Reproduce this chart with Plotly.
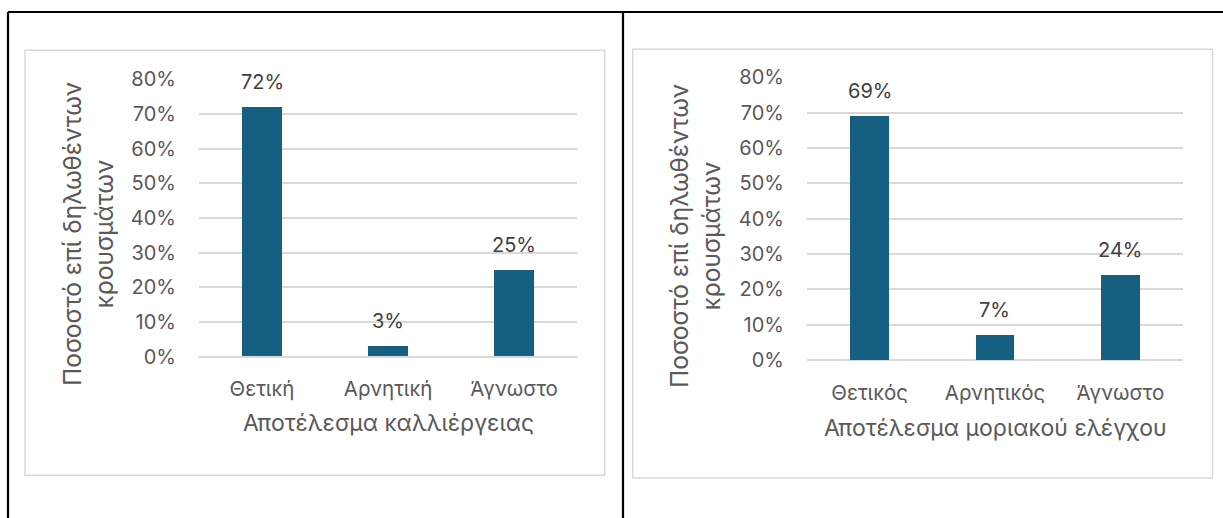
import plotly.graph_objects as go

# Data
culture_categories = ["Θετική", "Αρνητική", "Άγνωστο"]
culture_values = [0.72, 0.03, 0.25]
molecular_categories = ["Θετικός", "Αρνητικός", "Άγνωστο"]
molecular_values = [0.69, 0.07, 0.24]
y_tick_values = [0, 0.1, 0.2, 0.3, 0.4, 0.5, 0.6, 0.7, 0.8]

y_title = "Ποσοστό επί δηλωθέντων<br>κρουσμάτων"
culture_title = "Αποτέλεσμα καλλιέργειας"
molecular_title = "Αποτέλεσμα μοριακού ελέγχου"

W, H = 1223, 518
BAR_COLOR = "#156082"
GRID = "#d9d9d9"
TICK_COLOR = "#595959"
LABEL_COLOR = "#404040"
FONT = "Inter, Roboto, 'Open Sans', sans-serif"


def px(x):
    return x / W


def py(y):
    return 1 - y / H


fig = go.Figure()

fig.add_trace(go.Bar(x=culture_categories, y=culture_values, marker_color=BAR_COLOR,
                     width=0.31, xaxis="x", yaxis="y", showlegend=False, hoverinfo="skip"))
fig.add_trace(go.Bar(x=molecular_categories, y=molecular_values, marker_color=BAR_COLOR,
                     width=0.31, xaxis="x2", yaxis="y2", showlegend=False, hoverinfo="skip"))

axis_common_y = dict(
    range=[0, 0.8], tickvals=y_tick_values, tickformat=".0%",
    showgrid=True, gridcolor=GRID, gridwidth=1.5,
    zeroline=True, zerolinecolor=GRID, zerolinewidth=1.5,
    showline=False, ticks="", ticklabelstandoff=22, automargin=False,
    tickfont=dict(family=FONT, size=20, color=TICK_COLOR),
    fixedrange=True,
)
axis_common_x = dict(
    showgrid=False, zeroline=False, showline=False, ticks="",
    ticklabelstandoff=18, automargin=False,
    tickfont=dict(family=FONT, size=20.5, color=TICK_COLOR),
    fixedrange=True,
)

fig.update_layout(
    template="none",
    width=W, height=H,
    autosize=False,
    margin=dict(l=0, r=0, t=0, b=0, pad=0),
    paper_bgcolor="white", plot_bgcolor="white",
    bargap=0,
    xaxis=dict(domain=[px(199), px(577)], anchor="y", **axis_common_x),
    yaxis=dict(domain=[py(356.7), py(79.3)], anchor="x", **axis_common_y),
    xaxis2=dict(domain=[px(807), px(1183)], anchor="y2", **axis_common_x),
    yaxis2=dict(domain=[py(360), py(77.3)], anchor="x2", **axis_common_y),
)

shapes = []
# Table borders
for x0, y0, x1, y1 in [(8, 12, 1223, 12), (8, 12, 8, 518), (623, 12, 623, 518)]:
    shapes.append(dict(type="line", xref="paper", yref="paper",
                       x0=px(x0), y0=py(y0), x1=px(x1), y1=py(y1),
                       line=dict(color="black", width=2.2)))
# Chart area frames
for x0, y0, x1, y1 in [(25, 50.3, 604.7, 475.3), (632.7, 49.3, 1212.5, 478)]:
    shapes.append(dict(type="rect", xref="paper", yref="paper",
                       x0=px(x0), y0=py(y0), x1=px(x1), y1=py(y1),
                       line=dict(color=GRID, width=1.5), fillcolor="rgba(0,0,0,0)"))
fig.update_layout(shapes=shapes)

annotations = []
# Data labels
for cats, vals, xr, yr in [(culture_categories, culture_values, "x", "y"),
                           (molecular_categories, molecular_values, "x2", "y2")]:
    for c, v in zip(cats, vals):
        annotations.append(dict(x=c, y=v, xref=xr, yref=yr, text=f"{round(v * 100)}%",
                                showarrow=False, yanchor="middle", yshift=25,
                                font=dict(family=FONT, size=20, color=LABEL_COLOR)))
# Axis titles
for xc, yc, txt in [(388, 423, culture_title), (995, 428, molecular_title)]:
    annotations.append(dict(x=px(xc), y=py(yc), xref="paper", yref="paper", text=txt,
                            showarrow=False, xanchor="center", yanchor="middle",
                            font=dict(family=FONT, size=23, color=TICK_COLOR)))
for xc, yc in [(88, 234), (695, 236)]:
    annotations.append(dict(x=px(xc), y=py(yc), xref="paper", yref="paper", text=y_title,
                            showarrow=False, textangle=-90, xanchor="center", yanchor="middle",
                            font=dict(family=FONT, size=24.5, color=TICK_COLOR)))
fig.update_layout(annotations=annotations)

fig.write_html("out.html")
